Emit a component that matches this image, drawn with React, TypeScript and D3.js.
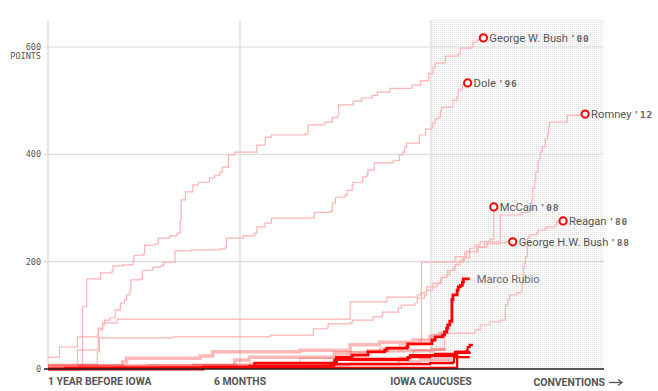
import React from 'react';
import * as d3 from 'd3';

const WIDTH = 658;
const HEIGHT = 391;

// [days relative to Iowa caucuses, cumulative endorsement points]
const bushW00 = [[-365,0],[-335,6],[-332,54],[-332,116],[-328,117],[-328,168],[-315,179],[-304,183],[-303,192],[-294,194],[-284,201],[-283,212],[-274,214],[-273,231],[-263,233],[-260,244],[-249,248],[-242,253],[-239,278],[-238,315],[-234,330],[-227,343],[-222,348],[-211,356],[-206,361],[-201,367],[-199,376],[-193,399],[-187,404],[-166,406],[-166,417],[-158,432],[-152,436],[-120,438],[-117,455],[-103,455],[-101,460],[-94,469],[-89,471],[-88,492],[-75,492],[-74,499],[-66,505],[-56,510],[-51,516],[-39,518],[-39,523],[-20,523],[-18,529],[-10,537],[-3,538],[-2,551],[2,561],[4,570],[13,572],[14,583],[26,587],[28,598],[39,600],[40,609],[44,613],[50,617]];
const dole96 = [[-365,22],[-354,22],[-354,41],[-339,41],[-337,60],[-318,63],[-317,76],[-313,82],[-311,91],[-306,95],[-301,110],[-296,123],[-292,129],[-290,138],[-287,147],[-286,166],[-277,168],[-275,184],[-265,190],[-258,192],[-255,199],[-244,205],[-244,220],[-228,222],[-201,224],[-196,227],[-195,244],[-182,244],[-179,248],[-168,253],[-166,265],[-158,272],[-152,281],[-112,283],[-111,292],[-96,294],[-94,309],[-91,320],[-82,324],[-80,333],[-75,343],[-74,348],[-65,352],[-65,358],[-61,363],[-60,371],[-54,374],[-54,384],[-37,384],[-36,388],[-30,389],[-30,399],[-27,404],[-25,414],[-23,421],[-11,427],[-11,436],[-6,436],[-5,447],[1,451],[2,458],[4,466],[7,469],[9,479],[10,488],[20,488],[21,501],[25,507],[26,520],[30,529],[35,533]];
const mccain08 = [[-365,9],[-320,9],[-318,32],[-316,32],[-316,58],[-247,58],[-246,60],[-153,60],[-153,63],[-113,63],[-112,75],[-99,76],[-98,84],[-77,86],[-75,91],[-56,91],[-55,97],[-47,99],[-46,106],[-34,106],[-31,114],[-28,119],[-15,123],[-13,132],[-6,138],[-4,147],[2,153],[6,160],[10,170],[15,175],[18,184],[23,194],[28,203],[32,218],[37,225],[42,231],[47,237],[56,242],[60,246],[60,302]];
const ghwBush88 = [[-365,7],[-339,7],[-337,35],[-318,37],[-317,73],[-313,86],[-301,86],[-299,93],[-77,93],[-77,125],[-44,125],[-42,134],[-13,138],[-10,142],[-6,143],[-4,153],[1,153],[2,160],[9,166],[10,171],[15,175],[16,184],[21,188],[23,194],[25,199],[31,207],[37,218],[45,227],[51,233],[66,235],[71,237],[78,237]];
const romney12 = [[-365,0],[-230,0],[-227,9],[-173,11],[-125,20],[-77,32],[-49,39],[-30,45],[-10,52],[-9,199],[21,199],[23,209],[34,218],[44,227],[53,229],[54,237],[65,238],[66,246],[66,287],[85,292],[94,296],[96,315],[97,337],[99,352],[100,367],[102,389],[104,404],[106,414],[109,429],[111,438],[112,451],[113,460],[128,460],[130,473],[147,475]];
const reagan80 = [[-365,0],[-173,0],[-125,6],[-77,13],[-30,22],[-17,35],[9,37],[13,67],[42,73],[47,82],[56,88],[66,91],[71,119],[73,129],[75,138],[82,142],[85,143],[87,160],[88,188],[89,197],[90,209],[92,227],[92,244],[94,250],[101,253],[102,259],[109,263],[111,265],[118,268],[120,274],[126,276]];

// 2016 candidates
const rubio16 = [[-365,0],[-220,0],[-217,4],[-170,4],[-168,11],[-92,13],[-90,22],[-75,26],[-60,32],[-44,35],[-42,39],[-23,41],[-22,47],[-1,47],[1,54],[4,60],[11,63],[13,69],[15,76],[16,82],[18,89],[20,97],[20,129],[21,138],[25,147],[26,153],[28,156],[30,162],[31,168],[37,168]];
const activeA = [[-365,0],[-296,0],[-292,2],[-173,6],[-96,9],[-92,11],[-90,19],[-23,20],[-22,22],[-1,24],[21,26],[23,32],[34,34],[35,41],[37,45],[39,47]];
const activeB = [[-365,0],[-260,0],[-258,2],[-150,4],[-93,7],[-92,17],[-22,20],[-20,26],[4,28],[24,28],[25,32],[37,32]];
const activeC = [[-365,0],[-349,0],[-349,2],[24,2],[25,30],[38,30]];
const activeD = [[-365,0],[-300,2],[-96,9],[-1,11],[21,13],[22,22],[37,22]];
const droppedA = [[-365,0],[-349,0],[-335,6],[-294,13],[-290,20],[-220,24],[-208,32],[-125,35],[-77,45],[-49,50],[-17,54],[-1,60],[2,63],[9,67],[15,73],[18,73]];
const droppedB = [[-365,4],[-268,6],[-187,17],[-173,22],[-92,30],[-60,34],[1,37],[13,39]];
const droppedC = [[-365,6],[-125,9],[-30,13],[-10,17],[18,20]];

const yTicks = [0, 200, 400, 600];
const xTicks = [-365, -182, 0];
const xTickLabels = ['1 YEAR BEFORE IOWA', '6 MONTHS', 'IOWA CAUCUSES'];
const conventionDay = 165;

const winners = [
  { name: 'George W. Bush', year: '00', data: bushW00 },
  { name: 'Dole', year: '96', data: dole96 },
  { name: 'Romney', year: '12', data: romney12 },
  { name: 'McCain', year: '08', data: mccain08 },
  { name: 'Reagan', year: '80', data: reagan80 },
  { name: 'George H.W. Bush', year: '88', data: ghwBush88 },
];
const active = [activeA, activeB, activeC, activeD];
const dropped = [droppedA, droppedB, droppedC];

const x = d3.scaleLinear().domain([-365, conventionDay]).range([48, 604]);
const y = d3.scaleLinear().domain([0, 600]).range([369, 47]);
const line = d3.line<number[]>().x(d => x(d[0])).y(d => y(d[1])).curve(d3.curveStepAfter);

const TOP = 20;
const monoFont = '"DejaVu Sans Mono", monospace';

export default function App() {
  const rubioEnd = rubio16[rubio16.length - 1];
  return (
    <svg width={WIDTH} height={HEIGHT} style={{ position: 'absolute', left: 0, top: 0, fontFamily: 'Roboto, sans-serif' }}>
      <defs>
        <pattern id="dots" width="2" height="2" patternUnits="userSpaceOnUse">
          <rect width="1" height="1" fill="#e0e0e0" />
        </pattern>
      </defs>
      <rect width={WIDTH} height={HEIGHT} fill="#fff" />

      {/* post-Iowa shading */}
      <rect x={x(0)} y={TOP} width={x(conventionDay) - x(0)} height={y(0) - TOP} fill="url(#dots)" />

      {/* grid */}
      {yTicks.filter(t => t > 0).map(t => (
        <line key={t} x1={x(-365) - 4} x2={x(conventionDay)} y1={y(t)} y2={y(t)} stroke="#dcdcdc" strokeWidth={1.2} />
      ))}
      {xTicks.map(t => (
        <line key={t} x1={x(t)} x2={x(t)} y1={TOP} y2={y(0)} stroke="#dcdcdc" strokeWidth={1.4} />
      ))}

      {/* y labels */}
      {yTicks.map(t => (
        <text key={t} x={41} y={y(t) + 3} textAnchor="end" fontFamily={monoFont} fontSize={8.5} fill="#555">{t}</text>
      ))}
      <text x={41} y={y(600) + 12} textAnchor="end" fontFamily={monoFont} fontSize={8.5} fill="#555">POINTS</text>

      {/* past winners */}
      {winners.map(w => (
        <path key={w.name} d={line(w.data) || ''} fill="none" stroke="#ffb3b3" strokeWidth={1.2} />
      ))}

      {/* 2016 candidates */}
      {dropped.map((d, i) => (
        <path key={'d' + i} d={line(d) || ''} fill="none" stroke="#ff0000" strokeOpacity={0.28} strokeWidth={3.5} />
      ))}
      {active.map((d, i) => (
        <path key={'a' + i} d={line(d) || ''} fill="none" stroke="#ff0000" strokeWidth={2.2} />
      ))}
      <path d={line(rubio16) || ''} fill="none" stroke="#ff0000" strokeWidth={2.8} />

      {/* baseline */}
      <line x1={x(-365) - 4} x2={x(conventionDay)} y1={y(0)} y2={y(0)} stroke="#222" strokeWidth={1.5} />

      {/* winner endpoints */}
      {winners.map(w => {
        const end = w.data[w.data.length - 1];
        const cx = x(end[0]);
        const cy = y(end[1]);
        return (
          <g key={w.name}>
            <circle cx={cx} cy={cy} r={3.6} fill="#fff" stroke="#ff0000" strokeWidth={2} />
            <text x={cx + 6} y={cy + 4} fontSize={11.2} fill="#555">
              {w.name}
              <tspan dx={2} fontFamily={monoFont} fontSize={9.5} fontWeight="bold" fill="#666" letterSpacing={0.8}>{"'" + w.year}</tspan>
            </text>
          </g>
        );
      })}
      <text x={x(rubioEnd[0]) + 7} y={y(rubioEnd[1]) + 4} fontSize={11.2} fill="#666">Marco Rubio</text>

      {/* x labels */}
      {xTicks.map((t, i) => (
        <text key={t} x={x(t)} y={385} textAnchor={i === 0 ? 'start' : 'middle'} fontSize={10.4} fontWeight="bold" fill="#555">{xTickLabels[i]}</text>
      ))}
      <text x={x(conventionDay) + 1} y={386} textAnchor="end" fontSize={10.4} fontWeight="bold" fill="#555">CONVENTIONS</text>
      <line x1={x(conventionDay) + 5} x2={x(conventionDay) + 17} y1={382.5} y2={382.5} stroke="#555" strokeWidth={1.3} />
      <path d={`M${x(conventionDay) + 14},379.5 L${x(conventionDay) + 18},382.5 L${x(conventionDay) + 14},385.5`} fill="none" stroke="#555" strokeWidth={1.3} />
    </svg>
  );
}
